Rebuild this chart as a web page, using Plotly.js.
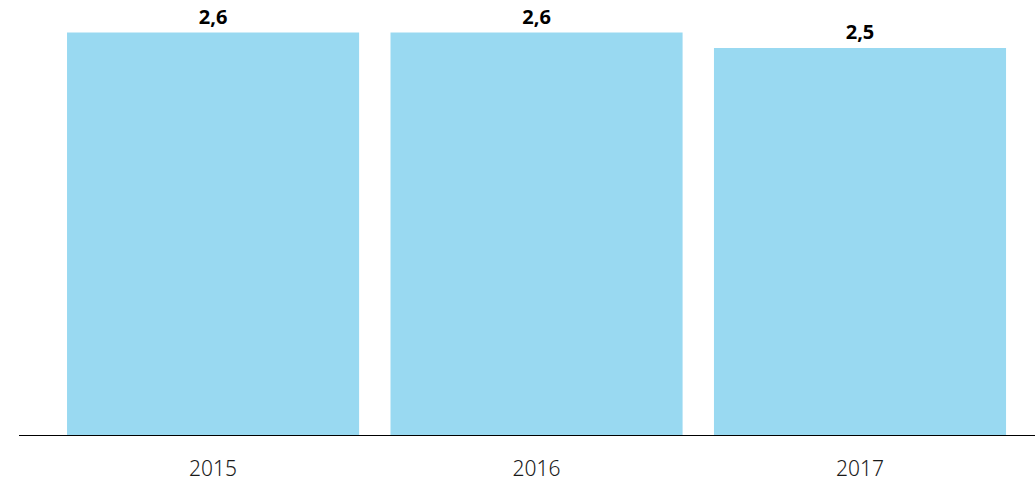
<!DOCTYPE html>
<html>
<head>
<meta charset="utf-8">
<script src="https://cdn.plot.ly/plotly-3.0.1.min.js"></script>
<style>html,body{margin:0;padding:0;background:#fff;}#chart{width:1035px;height:482px;}</style>
</head>
<body>
<div id="chart"></div>
<script>
const categories = ["2015", "2016", "2017"];
const values = [2.6, 2.6, 2.5];
const labels = ["2,6", "2,6", "2,5"];

const trace = {
  type: "bar",
  x: categories,
  y: values,
  text: labels,
  textposition: "outside",
  texttemplate: "<b>%{text}</b>",
  textfont: {family: "Noto Sans, sans-serif", size: 20, color: "#000"},
  cliponaxis: false,
  marker: {color: "#99D9F1"},
  hoverinfo: "none"
};

const layout = {
  width: 1035,
  height: 482,
  margin: {l: 19, r: 0, t: 0, b: 47},
  paper_bgcolor: "#fff",
  plot_bgcolor: "#fff",
  bargap: 0.097,
  showlegend: false,
  font: {family: "Noto Sans, sans-serif"},
  xaxis: {
    type: "category",
    range: [-0.6, 2.541],
    showline: true,
    linecolor: "#000",
    linewidth: 1,
    layer: "below traces",
    ticks: "",
    showgrid: false,
    zeroline: false,
    tickfont: {family: "Noto Sans, sans-serif", size: 21, color: "#1a1a1a", weight: 300},
    ticklabelstandoff: 15
  },
  yaxis: {
    range: [0, 2.81],
    visible: false,
    showgrid: false,
    zeroline: false
  }
};

Plotly.newPlot("chart", [trace], layout, {displayModeBar: false, staticPlot: true});
</script>
</body>
</html>
